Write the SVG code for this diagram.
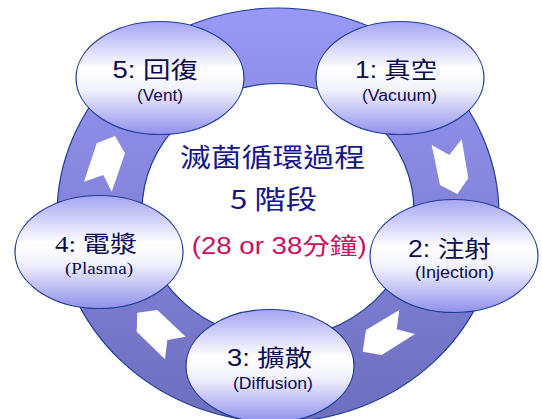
<svg xmlns="http://www.w3.org/2000/svg" width="542" height="419" viewBox="0 0 542 419">
<defs>
<linearGradient id="ringGrad" x1="0" y1="0" x2="0" y2="1">
<stop offset="0" stop-color="#9898f6"/>
<stop offset="1" stop-color="#6e6ebe"/>
</linearGradient>
<linearGradient id="nodeGrad" x1="0" y1="0" x2="0" y2="1">
<stop offset="0" stop-color="#a4a4f2"/>
<stop offset="0.42" stop-color="#ffffff"/>
<stop offset="0.6" stop-color="#f2f2fd"/>
<stop offset="1" stop-color="#9090ec"/>
</linearGradient>
<style>
.node { fill: url(#nodeGrad); stroke: #1e3c96; stroke-width: 1.2; }
.lbl { font-family: "Liberation Sans", "Noto Sans CJK TC", sans-serif; fill: #0c0c50; }
.lblserif { font-family: "Liberation Serif", "Noto Sans CJK TC", serif; fill: #0c0c50; }
.big { font-size: 23px; }
.small { font-size: 16px; }
.arrow { fill: #ffffff; }
.title { font-family: "Noto Sans CJK TC", sans-serif; fill: #16168a; font-size: 26px; }
.time { font-family: "Liberation Sans", "Noto Sans CJK TC", sans-serif; fill: #cc0f5f; font-size: 23px; }
</style>
</defs>
<g id="connectors">
<path d="M 57,215 a 221,207 0 1,0 442,0 a 221,207 0 1,0 -442,0 Z M 142,211 a 136,127.5 0 1,0 272,0 a 136,127.5 0 1,0 -272,0 Z" fill="url(#ringGrad)" fill-rule="evenodd" stroke="#1e3c96" stroke-width="1.2"/>
<polygon class="arrow" points="431.7,145 449.3,155 461.7,139.3 468.3,178.3 457.3,194 440,185"/>
<polygon class="arrow" points="399.3,310 396.7,329.3 415,334 381.7,355 362.7,351.7 366,330"/>
<polygon class="arrow" points="137.3,312.7 157.3,310 185.7,336.7 167.3,340 165,359.3 136.7,331.7"/>
<polygon class="arrow" points="96.7,143.3 115,136 125,153.3 111.7,191.7 103.3,175 84,181.7"/>
</g>
<g id="center">
<text class="title" x="180" y="167" textLength="185" lengthAdjust="spacingAndGlyphs">滅菌循環過程</text>
<text class="title" x="230" y="209" textLength="87" lengthAdjust="spacingAndGlyphs">5 階段</text>
<text class="time" x="191.7" y="254" textLength="175" lengthAdjust="spacingAndGlyphs">(28 or 38分鐘)</text>
</g>
<g id="node1">
<ellipse class="node" cx="400" cy="78" rx="84" ry="56.5"/>
<text class="lbl big" x="355" y="78.3" textLength="82" lengthAdjust="spacingAndGlyphs">1: 真空</text>
<text class="lbl small" x="362" y="100.5" textLength="75" lengthAdjust="spacingAndGlyphs">(Vacuum)</text>
</g>
<g id="node2">
<ellipse class="node" cx="454" cy="256" rx="84" ry="56.5"/>
<text class="lbl big" x="408" y="257" textLength="83" lengthAdjust="spacingAndGlyphs">2: 注射</text>
<text class="lbl small" x="415" y="278" textLength="79" lengthAdjust="spacingAndGlyphs">(Injection)</text>
</g>
<g id="node3">
<ellipse class="node" cx="270" cy="366" rx="84" ry="56.5"/>
<text class="lbl big" x="227" y="366" textLength="85" lengthAdjust="spacingAndGlyphs">3: 擴散</text>
<text class="lbl small" x="233" y="388.5" textLength="80" lengthAdjust="spacingAndGlyphs">(Diffusion)</text>
</g>
<g id="node4">
<ellipse class="node" cx="99" cy="252" rx="84" ry="56.5"/>
<text class="lblserif big" x="55" y="252" textLength="82" lengthAdjust="spacingAndGlyphs">4: 電漿</text>
<text class="lblserif small" x="65" y="274" textLength="68" lengthAdjust="spacingAndGlyphs">(Plasma)</text>
</g>
<g id="node5">
<ellipse class="node" cx="160" cy="78" rx="84" ry="56.5"/>
<text class="lbl big" x="112.5" y="78" textLength="85.5" lengthAdjust="spacingAndGlyphs">5: 回復</text>
<text class="lbl small" x="137" y="100.5" textLength="46" lengthAdjust="spacingAndGlyphs">(Vent)</text>
</g>
</svg>
